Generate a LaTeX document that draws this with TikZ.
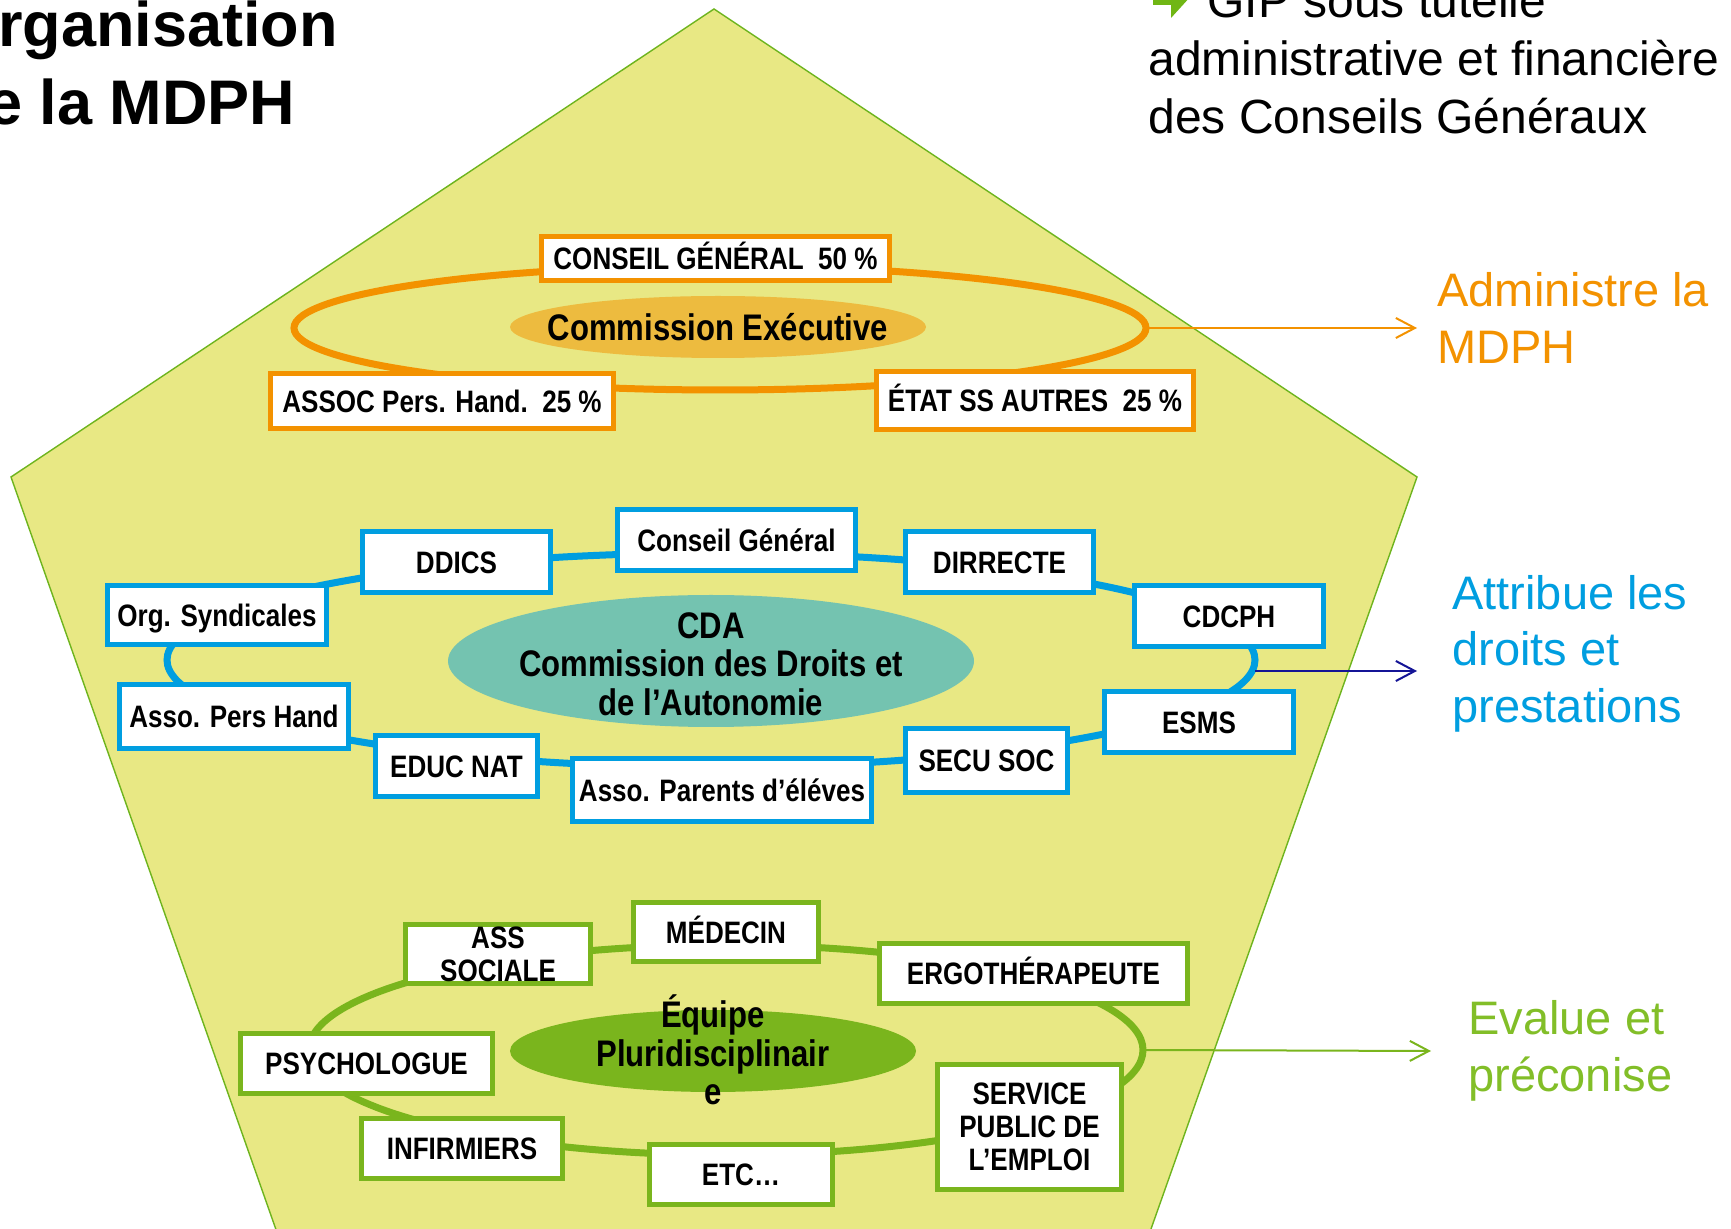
\documentclass[tikz,border=0pt]{standalone}
\usepackage{fontspec}
\setmainfont{Liberation Sans}
\newfontfamily\narrowf[FakeStretch=0.84]{Liberation Sans}
\usetikzlibrary{shapes.geometric,arrows.meta}
\definecolor{cfill}{RGB}{232,232,132}
\definecolor{cpent}{RGB}{110,180,30}
\definecolor{corange}{RGB}{243,146,0}
\definecolor{cgold}{RGB}{237,187,63}
\definecolor{cblue}{RGB}{0,158,224}
\definecolor{cteal}{RGB}{116,195,176}
\definecolor{cgreen}{RGB}{122,181,29}
\definecolor{cnavy}{RGB}{20,20,150}
\definecolor{ctxtgreen}{RGB}{130,190,40}
\definecolor{cbullet}{RGB}{112,182,20}
\begin{document}
\begin{tikzpicture}[x=0.5pt,y=-0.5pt,
  boxbase/.style={font=\narrowf\bfseries\fontsize{15.5pt}{16.5pt}\selectfont, align=center, text=black,
    draw, fill=white, line width=2.5pt, inner sep=0pt, outer sep=0pt},
  box/.style={boxbase, text height=11.2pt, text depth=0pt},
  sz/.style 2 args={minimum width={#1*0.5pt-2.5pt}, minimum height={#2*0.5pt-2.5pt}},
  obox/.style={box, draw=corange},
  bbox/.style={box, draw=cblue},
  gbox/.style={box, draw=cgreen},
  gboxm/.style={boxbase, draw=cgreen},
  ring/.style={ellipse, inner sep=0pt, outer sep=0pt, line width=3.5pt, draw=#1},
  blob/.style={ellipse, inner sep=0pt, outer sep=0pt, fill=#1},
  etext/.style={font=\narrowf\bfseries\fontsize{18.5pt}{19.25pt}\selectfont, align=center, inner sep=0pt},
  side/.style={font=\fontsize{23.5pt}{28.5pt}\selectfont, anchor=base west, inner sep=0pt},
  toptxt/.style={font=\fontsize{24pt}{29pt}\selectfont, anchor=base west, inner sep=0pt},
  ttl/.style={font=\bfseries\fontsize{31.5pt}{31.5pt}\selectfont, anchor=base west, inner sep=0pt},
  arr/.style={-{Straight Barb[length=9.5pt,width=10pt]}, line width=1pt},
]
\useasboundingbox (0,0) rectangle (1731,1229);
\clip (0,0) rectangle (1731,1229);

% pentagon
\path[draw=cpent, line width=0.7pt, fill=cfill]
  (714,9) -- (1417,477) -- (1090.5,1400) -- (336,1400) -- (11,477) -- cycle;

% title
\node[ttl] (t1) at (-2,47) {rganisation};
\node[ttl] (t2) at (-13,125) {e la MDPH};

% top right
\fill[cbullet] (1153,-13) -- (1171,-13) -- (1171,-26) -- (1191,-4) -- (1171,18) -- (1171,5) -- (1153,5) -- cycle;
\node[toptxt] (g1) at (1207,18) {GIP sous tutelle};
\node[toptxt] (g2) at (1148,76) {administrative et financière};
\node[toptxt] (g3) at (1148,134) {des Conseils Généraux};

% rings
\node[ring=corange, minimum width=852*0.5pt, minimum height=124*0.5pt] (ringO) at (720,328) {};
\node[ring=cblue, minimum width=1088*0.5pt, minimum height=214*0.5pt] (ringB) at (711,660) {};
\node[ring=cgreen, minimum width=834*0.5pt, minimum height=210*0.5pt] (ringG) at (726,1050) {};

% central ellipses
\node[blob=cgold, minimum width=416*0.5pt, minimum height=62*0.5pt] (ce) at (718,327) {};
\node[etext, text height=13.3pt, text depth=0pt] (cet) at (718,327) {Commission Exécutive};
\node[blob=cteal, minimum width=526*0.5pt, minimum height=132*0.5pt] (cda) at (711,661) {};
\node[etext] (cdat) at (711,664) {CDA\\Commission des Droits et\\de l’Autonomie};
\node[blob=cgreen, minimum width=406*0.5pt, minimum height=82*0.5pt] (eq) at (713,1051) {};
\node[etext] (eqt) at (713,1050) {Équipe\\Pluridisciplinair\\e};

% orange boxes
\node[obox, sz={353}{49}] (ocg) at (715.5,258.5) {CONSEIL GÉNÉRAL\ \ 50~\%};
\node[obox, sz={348}{60}] (oas) at (442,401) {ASSOC Pers. Hand.\ \ 25~\%};
\node[obox, sz={322}{63}] (oet) at (1035,400.5) {ÉTAT SS AUTRES\ \ 25~\%};

% blue boxes
\node[bbox, sz={243}{66}] (bcg) at (736.5,540) {Conseil Général};
\node[bbox, sz={193}{66}] (bdd) at (456.5,562) {DDICS};
\node[bbox, sz={193}{66}] (bdi) at (999.5,562) {DIRRECTE};
\node[bbox, sz={224}{64}] (bor) at (217,615) {Org. Syndicales};
\node[bbox, sz={194}{66}] (bcd) at (1229,616) {CDCPH};
\node[bbox, sz={234}{69}] (bap) at (234,716.5) {Asso. Pers Hand};
\node[bbox, sz={194}{66}] (bes) at (1199,722) {ESMS};
\node[bbox, sz={167}{66}] (bed) at (456.5,766) {EDUC NAT};
\node[bbox, sz={167}{69}] (bse) at (986.5,760.5) {SECU SOC};
\node[bbox, sz={304}{68}] (bpa) at (722,790) {Asso. Parents d’éléves};

% green boxes
\node[gboxm, sz={190}{64}] (gas) at (498,954) {ASS\\SOCIALE};
\node[gbox, sz={190}{64}] (gme) at (726,932) {MÉDECIN};
\node[gbox, sz={313}{65}] (ger) at (1033.5,973.5) {ERGOTHÉRAPEUTE};
\node[gbox, sz={257}{65}] (gps) at (366.5,1063.5) {PSYCHOLOGUE};
\node[gboxm, sz={189}{130}] (gse) at (1029.5,1127) {SERVICE\\PUBLIC DE\\L’EMPLOI};
\node[gbox, sz={206}{65}] (gin) at (462,1148.5) {INFIRMIERS};
\node[gbox, sz={188}{65}] (get) at (741,1174.5) {ETC…};

% side texts
\node[side, text=corange] (a1) at (1437,307) {Administre la};
\node[side, text=corange] (a2) at (1437,364) {MDPH};
\node[side, text=cblue] (b1) at (1452,610) {Attribue les};
\node[side, text=cblue] (b2) at (1452,666) {droits et};
\node[side, text=cblue] (b3) at (1452,723) {prestations};
\node[side, text=ctxtgreen] (c1) at (1468,1034) {Evalue et};
\node[side, text=ctxtgreen] (c2) at (1468,1091) {préconise};

% arrows
\coordinate (aO) at (1417,328);
\coordinate (aB) at (1417,671);
\coordinate (aG) at (1431,1051);
\draw[arr, draw=corange] (ringO.east) -- (aO);
\draw[arr, draw=cnavy] ([yshift=-5.5pt]ringB.east) -- (aB);
\draw[arr, draw=cgreen] (ringG.east) -- (aG);
\end{tikzpicture}
\end{document}
